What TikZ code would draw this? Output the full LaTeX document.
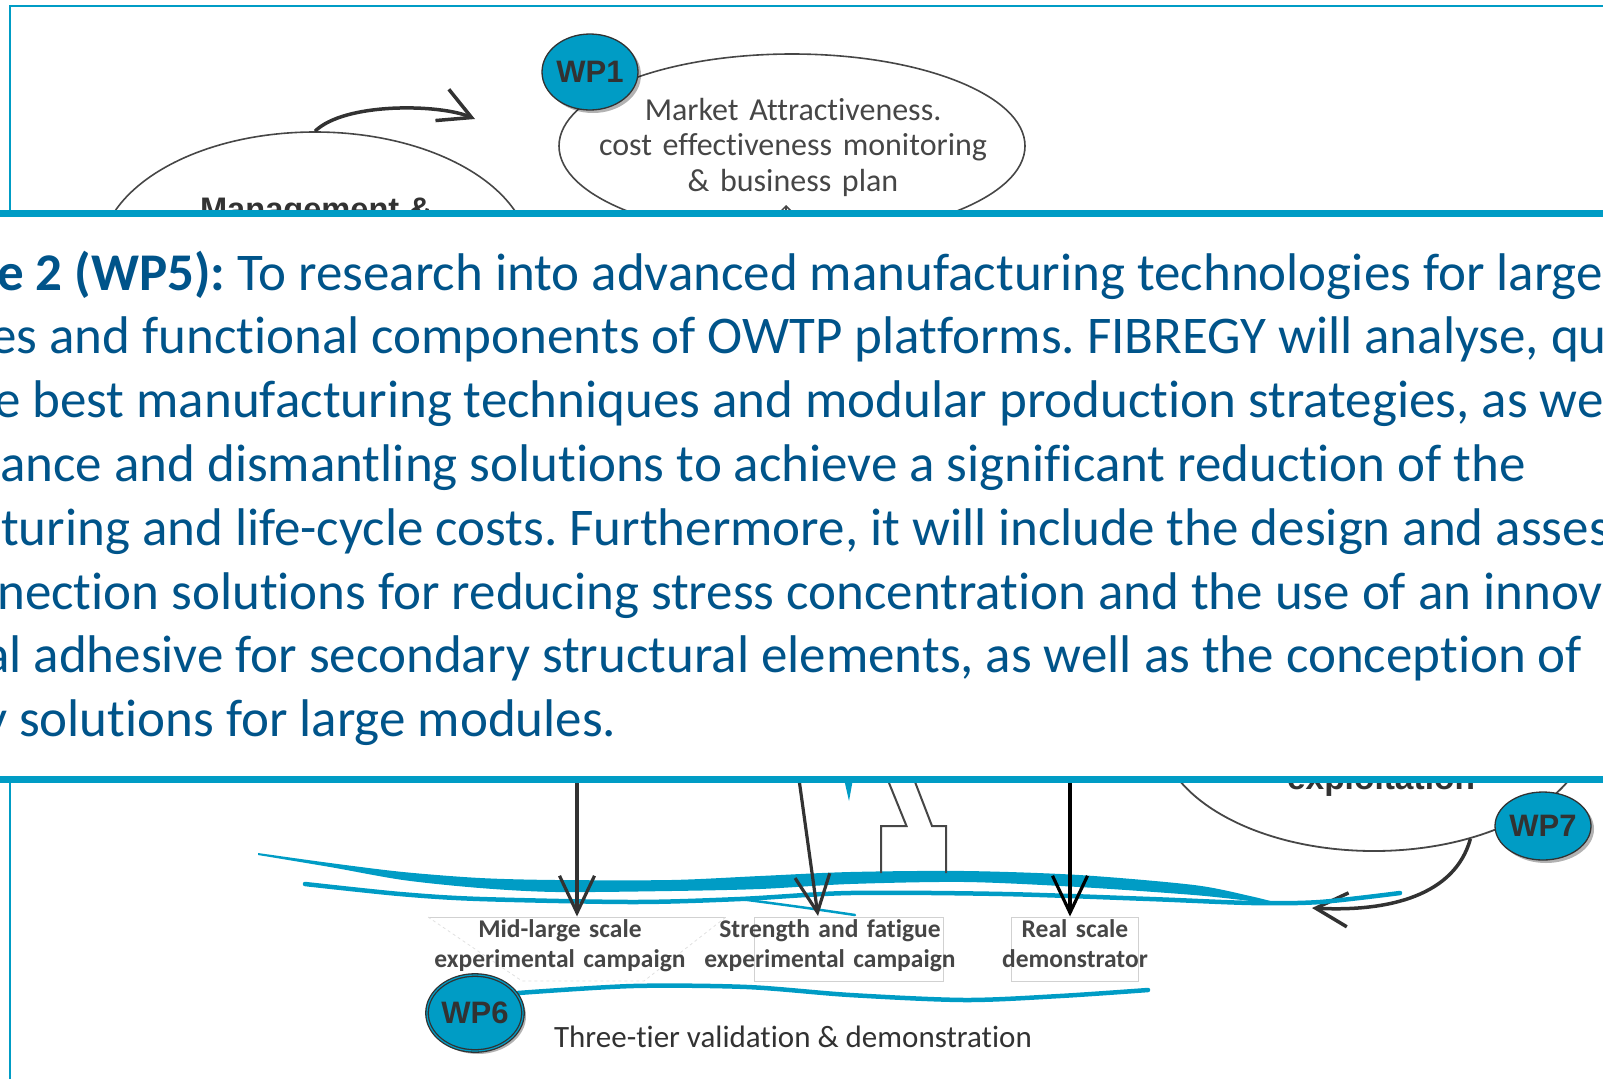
\documentclass[tikz,border=0pt]{standalone}
\usepackage{fontspec}
\setmainfont{Carlito}[Ligatures={TeX,NoCommon}]
\newfontfamily\wpfont{Liberation Sans}
\usepackage{tikz}
\usetikzlibrary{arrows.meta,shapes.geometric,shadows}
\frenchspacing

\definecolor{bandblue}{RGB}{0,156,197}
\definecolor{textblue}{RGB}{0,84,138}
\definecolor{darkink}{RGB}{50,50,50}
\definecolor{lightink}{RGB}{70,70,70}

\tikzset{
  wpnode/.style={ellipse, draw=darkink, line width=1.3pt, fill=bandblue, inner sep=0pt,
    minimum width=96pt, minimum height=76pt, text=darkink,
    font=\wpfont\bfseries\fontsize{31}{31}\selectfont,
    drop shadow={shadow xshift=3pt, shadow yshift=-3pt, fill=black, opacity=0.3}},
  bubble/.style={ellipse, draw=lightink, line width=1.6pt, inner sep=0pt},
  boxtext/.style={text width=280pt, align=center, inner sep=0pt, text=lightink,
    font=\bfseries\fontsize{25.5}{30.5}\selectfont},
  framebox/.style={draw=black!18, line width=1pt, inner sep=0pt},
  droparrow/.style={draw=darkink, line width=3.2pt, -{Straight Barb[length=37pt,width=35pt]}},
  curvedarrow/.style={draw=darkink, line width=3.5pt, -{Straight Barb[length=32pt,width=34pt]}},
  streak/.style={draw=bandblue, line width=4.5pt, line cap=round},
  bandtext/.style={anchor=base west, inner sep=0pt, text=textblue,
    font=\fontsize{53}{63.8}\selectfont}
}

\begin{document}
\begin{tikzpicture}[x=1pt,y=-1pt]
    \useasboundingbox (0,0) rectangle (1603,1079);
    \clip (0,0) rectangle (1603,1079);

    \draw [bandblue, line width=2.5pt] (10,1079) -- (10,6) -- (1603,6);

    % upper part of the diagram
    \node [bubble, minimum width=430pt, minimum height=250pt] (mgmt) at (315,257) {};
    \node [anchor=base, text=darkink, font=\wpfont\bfseries\fontsize{32.6}{36}\selectfont] (mgmttext) at (316,220) {Management \&};
    \node [bubble, minimum width=466pt, minimum height=184pt] (marketshape) at (792,146) {};
    \node [anchor=base, text width=420pt, align=center, inner sep=0pt, text=lightink,
        font=\fontsize{32}{35.8}\selectfont] (market) at (793,120)
        {Market Attractiveness.\\cost effectiveness monitoring\\\& business plan};
    \node [wpnode] (wp1) at (590,72) {WP1};

    \coordinate (mgmtend) at (475,119);
    \draw [curvedarrow] (mgmt.north) .. controls (345,102) and (440,104) .. (mgmtend);
    \coordinate (mkfoot) at (786,214);
    \coordinate (mktip) at (786,205);
    \draw [lightink, line width=1.5pt, -{Straight Barb[length=6pt,width=12pt]}] (mkfoot) -- (mktip);

    % lower part of the diagram
    \node [bubble, line width=1.8pt, minimum width=430pt, minimum height=246pt] (expl) at (1374,728) {};
    \node [anchor=base, text=darkink, font=\wpfont\bfseries\fontsize{33.5}{36}\selectfont] (expltext) at (1381,789) {exploitation};
    \node [wpnode, minimum height=68pt] (wp7) at (1543,826) {WP7};
    \coordinate (wp7end) at (1312,908);
    \draw [curvedarrow] (expl.-49) .. controls (1455,895) and (1390,912) .. (wp7end);

    \fill [bandblue] plot [smooth] coordinates {(258,853) (330,863) (403,872) (480,878) (556,880) (671,880) (760,876) (850,872) (965,871) (1079,875) (1194,885) (1250,896) (1278,903)}
        -- plot [smooth] coordinates {(1250,901) (1194,895) (1079,887) (965,882) (850,884) (760,889) (671,891) (556,892) (480,888) (403,880) (330,867) (258,855)} -- cycle;
    \draw [streak] plot [smooth] coordinates {(305,884) (400,894) (480,899) (633,902) (740,899) (850,893) (1003,894) (1150,899) (1252,903) (1320,902) (1400,893)};
    \draw [streak, line width=2.5pt] plot [smooth] coordinates {(740,899) (800,907) (855,915)};
    \draw [streak] plot [smooth] coordinates {(518,993) (633,986) (747,987) (850,995) (965,1000) (1060,996) (1148,990)};

    \draw [lightink, line width=2pt] (887,778) -- (906.5,826) -- (881,826) -- (881,873);
    \draw [lightink, line width=2pt] (913.5,778) -- (932,826) -- (946,826) -- (946,873);
    \fill [bandblue] (844,779) -- (853,779) -- (849,801) -- cycle;

    \draw [black!18, line width=1pt] (428,917) -- (726,917);
    \draw [black!12, line width=0.8pt, dashed] (428,917) -- (522,981) -- (644,981) -- (726,917);
    \node [framebox, minimum width=189pt, minimum height=64pt] (f2) at (848.5,949) {};
    \node [framebox, minimum width=127pt, minimum height=64pt] (f3) at (1075,949) {};
    \node [boxtext, anchor=base] (box1) at (560,937) {Mid-large scale\\experimental campaign};
    \node [boxtext, anchor=base] (box2) at (830,937) {Strength and fatigue\\experimental campaign};
    \node [boxtext, anchor=base] (box3) at (1075,937) {Real scale\\demonstrator};

    \coordinate (s1) at (577,772);
    \coordinate (s2) at (798,772);
    \coordinate (e2) at (818,916);
    \coordinate (s3) at (1070,772);
    \draw [droparrow] (s1) -- (s1 |- f2.north);
    \draw [droparrow] (s2) -- (e2);
    \draw [droparrow, draw=black] (s3) -- (s3 |- f3.north);

    \node [wpnode, double=bandblue, double distance=1.2pt] (wp6) at (475,1013) {WP6};
    \node [anchor=base, text=darkink, font=\fontsize{31}{31}\selectfont] (tier) at (793,1047) {Three-tier validation \& demonstration};

    % objective band
    \fill [white] (0,213) rectangle (1603,779);
    \draw [bandblue, line width=7.5pt] (0,213.5) -- (1603,213.5) (0,779.5) -- (1603,779.5);
    \foreach \i/\xpos/\txt in {
        1/-3/{{\bfseries e 2 (WP5):} To research into advanced manufacturing technologies for large},
        2/-10/{es and functional components of OWTP platforms. FIBREGY will analyse, qu},
        3/-6/{e best manufacturing techniques and modular production strategies, as we},
        4/0/{ance and dismantling solutions to achieve a significant reduction of the},
        5/1/{turing and life-cycle costs. Furthermore, it will include the design and asses},
        6/-3/{nection solutions for reducing stress concentration and the use of an innov},
        7/-16/{al adhesive for secondary structural elements, as well as the conception of},
        8/-17/{y solutions for large modules.}}
        \node [bandtext] (line\i) at (\xpos,{290+63.8*(\i-1)}) {\txt};
\end{tikzpicture}
\end{document}
